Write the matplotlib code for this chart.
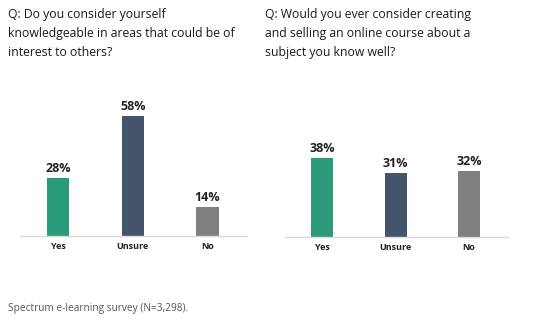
import matplotlib.pyplot as plt

# data
categories = ["Yes", "Unsure", "No"]
knowledgeable = [28, 58, 14]
create_course = [38, 31, 32]
titles = [
    "Q: Do you consider yourself\nknowledgeable in areas that could be of\ninterest to others?",
    "Q: Would you ever consider creating\nand selling an online course about a\nsubject you know well?",
]
footnote = "Spectrum e-learning survey (N=3,298)."

colors = ["#2a9a7a", "#44546a", "#7f7f7f"]

plt.rcParams["font.family"] = ["Open Sans", "DejaVu Sans"]

W, H = 545, 322
fig = plt.figure(figsize=(W / 100, H / 100), dpi=100)


def panel(x0, x1, base_y, values):
    ax = fig.add_axes([x0 / W, (H - base_y) / H, (x1 - x0) / W, 145 / H])
    xs = range(len(categories))
    ax.bar(xs, values, width=0.3, color=colors)
    for x, v in zip(xs, values):
        ax.text(x, v + 1.5, f"{v}%", ha="center", va="bottom",
                fontsize=9, fontweight="bold", color="#222222")
    ax.set_xlim(-0.51, 2.53)
    ax.set_ylim(0, 70)
    ax.set_xticks(list(xs))
    ax.set_xticklabels(categories, fontsize=6.5, fontweight="bold", color="#222222")
    ax.tick_params(axis="x", length=0, pad=4)
    ax.set_yticks([])
    for s in ["top", "right", "left"]:
        ax.spines[s].set_visible(False)
    ax.spines["bottom"].set_color("#d9d9d9")
    ax.spines["bottom"].set_linewidth(1)
    return ax


panel(20, 247, 236, knowledgeable)
panel(285, 508, 237, create_course)

fig.text(8 / W, 1 - 8 / H, titles[0], ha="left", va="top",
         fontsize=8.8, color="#1a1a1a", linespacing=1.62)
fig.text(265 / W, 1 - 8 / H, titles[1], ha="left", va="top",
         fontsize=8.8, color="#1a1a1a", linespacing=1.62)
fig.text(8 / W, 1 - 308 / H, footnote, ha="left", va="center",
         fontsize=7.3, color="#555555")

fig.savefig("out.png", dpi=100)
